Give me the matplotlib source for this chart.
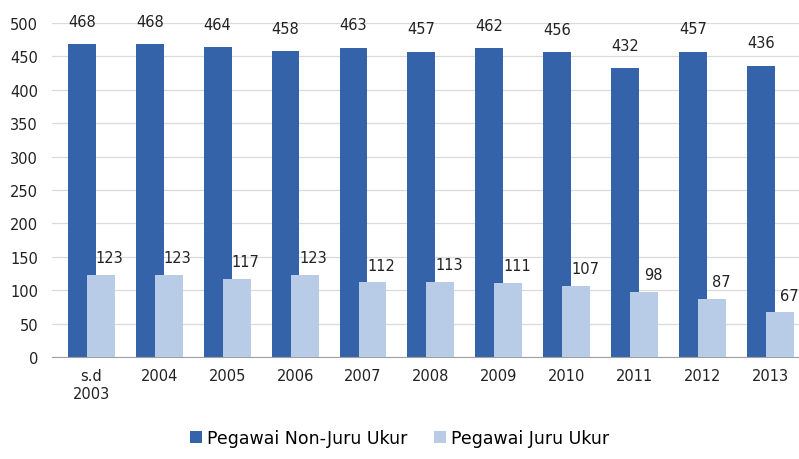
import matplotlib.pyplot as plt
import numpy as np

categories = ["s.d\n2003", "2004", "2005", "2006", "2007", "2008", "2009", "2010", "2011", "2012", "2013"]
non_juru = [468, 468, 464, 458, 463, 457, 462, 456, 432, 457, 436]
juru = [123, 123, 117, 123, 112, 113, 111, 107, 98, 87, 67]
series_names = ["Pegawai Non-Juru Ukur", "Pegawai Juru Ukur"]

dark = "#3563A9"
light = "#B8CBE7"

fig = plt.figure(figsize=(7.99, 4.6), dpi=100)
ax = fig.add_axes([0.065, 0.2217, 0.935, 0.7261])

x = np.arange(len(categories))
w = 0.41
off = 0.14
b1 = ax.bar(x - off, non_juru, w, color=dark, label=series_names[0], zorder=2)
b2 = ax.bar(x + off, juru, w, color=light, label=series_names[1], zorder=3)

for xi, v in zip(x, non_juru):
    ax.text(xi - off, v + 23 / 0.668, str(v), ha="center", va="center", fontsize=10.5, color="#222222", clip_on=False)
for xi, v in zip(x, juru):
    ax.text(xi + off + 0.13, v + 17 / 0.668, str(v), ha="center", va="center", fontsize=10.5, color="#222222", clip_on=False)

ax.set_xlim(-0.58, 10.42)
ax.set_ylim(0, 500)
ax.set_yticks(range(0, 501, 50))
ax.set_xticks(x)
ax.set_xticklabels(categories)
ax.yaxis.grid(True, color="#DADADA", linewidth=0.9, zorder=0)
ax.set_axisbelow(True)
for s in ["top", "right", "left"]:
    ax.spines[s].set_visible(False)
ax.spines["bottom"].set_color("#A0A0A0")
ax.tick_params(axis="both", length=0, labelsize=10.5, colors="#222222")
ax.tick_params(axis="x", pad=8)
ax.tick_params(axis="y", pad=10)

fig.legend(handles=[b1, b2], labels=series_names, loc="center", bbox_to_anchor=(0.5, 0.045),
           ncol=2, frameon=False, fontsize=12.5, handlelength=0.7, handleheight=0.7,
           handletextpad=0.3, columnspacing=1.5)

fig.savefig("out.png", dpi=100)
